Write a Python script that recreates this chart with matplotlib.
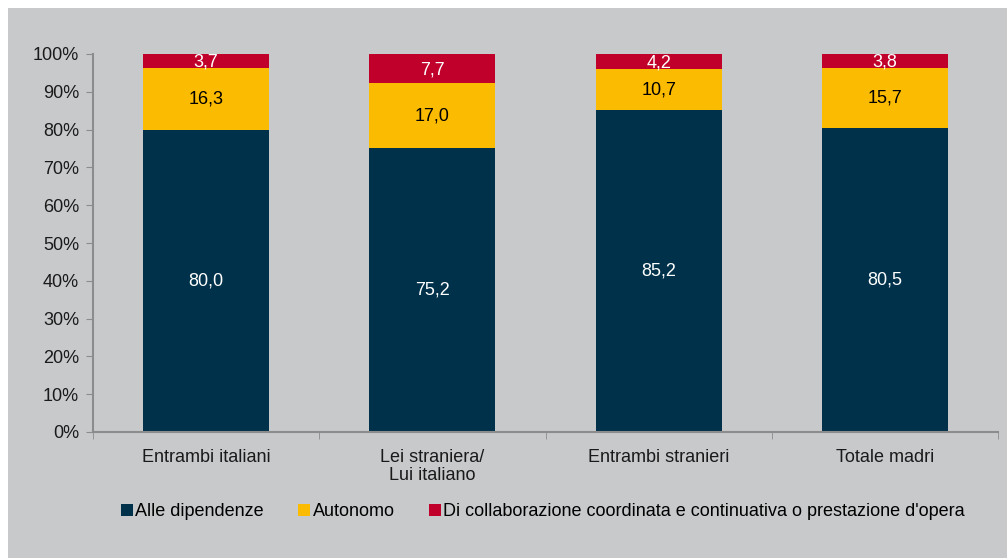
import numpy as np
import matplotlib.pyplot as plt
from matplotlib.patches import Rectangle
from matplotlib.ticker import FixedLocator, PercentFormatter

categories = ['Entrambi italiani', 'Lei straniera/\nLui italiano', 'Entrambi stranieri', 'Totale madri']
dipendenze = [80.0, 75.2, 85.2, 80.5]
autonomo = [16.3, 17.0, 10.7, 15.7]
collaborazione = [3.7, 7.7, 4.2, 3.8]
series_names = ['Alle dipendenze', 'Autonomo',
                "Di collaborazione coordinata e continuativa o prestazione d'opera"]

bg = '#c8c9cb'
colors = ['#00314a', '#fbbb00', '#c0002a']
text_colors = ['white', 'black', 'white']
axis_col = '#8c8c8c'
fs = 13

plt.rcParams['font.family'] = ['Liberation Sans', 'DejaVu Sans']

fig = plt.figure(figsize=(10.07, 5.58), dpi=100)
fig.patch.set_facecolor('white')
fig.patches.append(Rectangle((8 / 1007, 0), 1, 1 - 8 / 558, transform=fig.transFigure,
                             facecolor=bg, edgecolor='none', zorder=-10))

ax = fig.add_axes([93 / 1007, 126 / 558, 905 / 1007, 378 / 558])
ax.set_facecolor('none')

x = np.arange(len(categories))
bottom = np.zeros(len(categories))
for vals, col, tcol, name in zip([dipendenze, autonomo, collaborazione], colors, text_colors, series_names):
    vals = np.array(vals)
    ax.bar(x, vals, 0.557, bottom=bottom, color=col, label=name, edgecolor='none')
    for xi, b, v in zip(x, bottom, vals):
        yc = b + v / 2
        if col == colors[2]:
            yc = b + v / 2 - 0.3
        ax.text(xi, yc, f'{v:.1f}'.replace('.', ','), ha='center', va='center',
                color=tcol, fontsize=fs)
    bottom += vals

ax.set_xlim(-0.5, len(categories) - 0.5)
ax.set_ylim(0, 100)
ax.yaxis.set_major_locator(FixedLocator(np.arange(0, 101, 10)))
ax.yaxis.set_major_formatter(PercentFormatter(decimals=0))
ax.set_xticks(x)
ax.set_xticklabels(categories, fontsize=fs, color='#1a1a1a', linespacing=1.1)
ax.xaxis.set_minor_locator(FixedLocator(np.arange(-0.5, len(categories), 1)))
ax.tick_params(axis='x', which='major', length=0, pad=12)
ax.tick_params(axis='x', which='minor', length=5, color=axis_col, direction='out')
ax.tick_params(axis='y', length=5, color=axis_col, labelsize=fs, labelcolor='#1a1a1a', pad=5)

for s in ['top', 'right']:
    ax.spines[s].set_visible(False)
for s in ['left', 'bottom']:
    ax.spines[s].set_color(axis_col)
    ax.spines[s].set_linewidth(1.5)

handles, labels = ax.get_legend_handles_labels()
fig.legend(handles, labels, loc='center', bbox_to_anchor=(543 / 1007, 1 - 512 / 558),
           ncol=3, frameon=False, fontsize=fs, handlelength=0.65, handleheight=0.65,
           handletextpad=0.15, columnspacing=1.9)

fig.savefig('out.png', dpi=100, facecolor=fig.get_facecolor())
